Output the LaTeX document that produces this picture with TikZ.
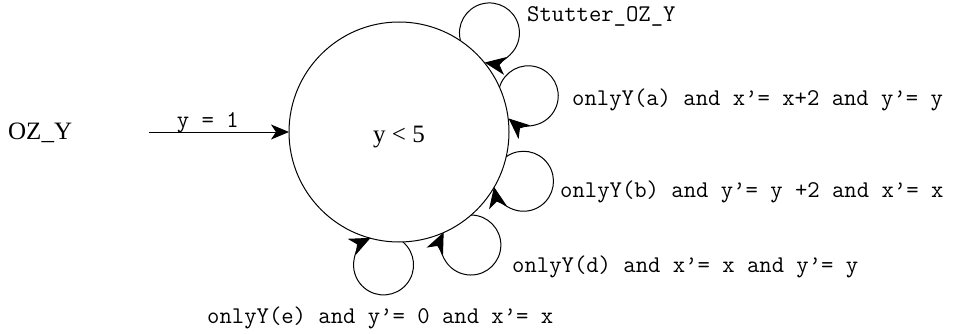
\documentclass[tikz,border=0pt]{standalone}
\usepackage{fontspec}
\setmainfont{Liberation Serif}
\usetikzlibrary{arrows.meta}

\begin{document}
\begin{tikzpicture}[x=1pt, y=1pt,
  state/.style={draw, circle, line width=1pt, minimum size=220pt, inner sep=0pt, outer sep=0pt, font=\fontsize{25}{30}\selectfont, text height=21pt, text depth=0pt},
  machine/.style={anchor=base west, inner sep=0pt, font=\fontsize{25}{30}\selectfont},
  guard/.style={anchor=base west, inner sep=0pt, font=\fontsize{24}{28}\ttfamily},
  trans/.style={->, line width=1pt},
  selfloop/.style={-{Stealth[length=21pt, width=18pt, inset=6pt]}, line width=1pt},
  >={Stealth[length=18pt, width=15pt, inset=5pt]}
]
\useasboundingbox (0,0) rectangle (958,333);
\node[state] (s) at (399,201) {y < 5};
\node[machine] (oz) at (8,194) {OZ\_Y};
\coordinate (init) at (149,201);
\draw[trans] (init) -- node[pos=0.42, anchor=base, yshift=5pt, inner sep=0pt, font=\fontsize{24}{28}\ttfamily] {y = 1} (s.west);
\foreach \t [evaluate=\t as \a using \t+8.5, evaluate=\t as \b using \t+147.2, evaluate=\t as \c using \t-147.2, evaluate=\t as \m using \t-87.2] in {48,16.3,-22,-57.8,-97.2}
  \draw[selfloop] (s.\a) arc[start angle=\b, end angle=\m, radius=30] arc[start angle=\m, end angle=\c, radius=30];
\node[guard] (stut) at (527,312) {Stutter\_OZ\_Y};
\node[guard] (ga) at (572,228) {onlyY(a) and x’= x+2 and y’= y};
\node[guard] (gb) at (560,136) {onlyY(b) and y’= y +2 and x’= x};
\node[guard] (gd) at (512,61) {onlyY(d) and x’= x and y’= y};
\node[guard] (ge) at (207,10) {onlyY(e) and y’= 0 and x’= x};
\end{tikzpicture}
\end{document}
